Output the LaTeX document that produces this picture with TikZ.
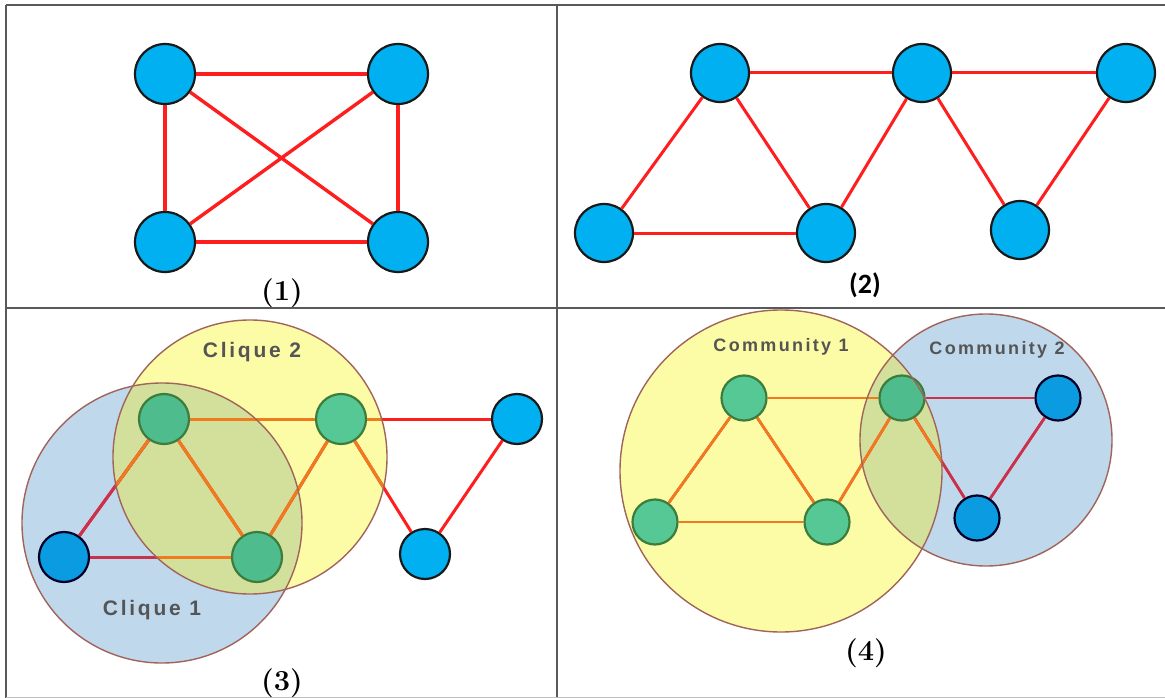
\documentclass[tikz,border=0pt]{standalone}
\usepackage{fontspec}
\newfontfamily\labfont[LetterSpace=13]{Liberation Sans}
\newfontfamily\carfont{Carlito}
\definecolor{nodeblue}{HTML}{00B0F0}
\definecolor{nodedeep}{HTML}{0A9BE0}
\definecolor{nodegreen}{HTML}{55C896}
\definecolor{nodegreenovl}{HTML}{4FBC8E}
\definecolor{greenline}{HTML}{3C7D3C}
\definecolor{edgered}{HTML}{FF1E1E}
\definecolor{edgeorange}{HTML}{F07A1E}
\definecolor{edgecrimson}{HTML}{C8324E}
\definecolor{yellowfill}{HTML}{FCFBA6}
\definecolor{bluefill}{HTML}{BFD8EC}
\definecolor{ovlfill}{HTML}{D3E09C}
\definecolor{ringline}{HTML}{A0645A}
\definecolor{labgray}{HTML}{555555}
\tikzset{
  border/.style={draw=black!65, line width=1.6pt},
  vtx/.style={circle, inner sep=0pt, draw=black!90, fill=nodeblue, line width=2.2pt},
  vtxdeep/.style={vtx, fill=nodedeep, draw=black!85!blue},
  vtxgreen/.style={vtx, fill=nodegreen, draw=greenline},
  vtxgreenovl/.style={vtx, fill=nodegreenovl, draw=greenline},
  redge/.style={draw=edgered, line width=3pt},
  oedge/.style={draw=edgeorange, line width=3pt},
  cedge/.style={draw=edgecrimson, line width=3pt},
  thinedge/.style={line width=2.6pt},
  ring/.style={draw=ringline, line width=1.4pt},
  caplab/.style={font=\fontsize{29}{33}\selectfont\bfseries, inner sep=0pt},
  grplab/.style={text=labgray, inner sep=0pt},
}
\begin{document}
\begin{tikzpicture}[x=1pt,y=-1pt]
\useasboundingbox (0,0) rectangle (1165,698);
\fill[white] (0,0) rectangle (1165,698);

% ---------- Panel 1 ----------
\begin{scope}[every node/.append style={minimum size=60pt}]
\node[vtx] (p1a) at (165,74) {};
\node[vtx] (p1b) at (398,74) {};
\node[vtx] (p1c) at (165,242) {};
\node[vtx] (p1d) at (398,242) {};
\end{scope}
\draw[redge, line width=3.4pt] (p1a) -- (p1b);
\draw[redge, line width=3.4pt] (p1a) -- (p1c);
\draw[redge, line width=3.4pt] (p1a) -- (p1d);
\draw[redge, line width=3.4pt] (p1b) -- (p1c);
\draw[redge, line width=3.4pt] (p1b) -- (p1d);
\draw[redge, line width=3.4pt] (p1c) -- (p1d);
\node[caplab] (lab1) at (282,293) {(1)};

% ---------- Panel 2 ----------
\begin{scope}[every node/.append style={minimum size=58pt}]
\node[vtx] (p2a) at (720,73) {};
\node[vtx] (p2b) at (922,73) {};
\node[vtx] (p2c) at (1126,73) {};
\node[vtx] (p2d) at (604,233) {};
\node[vtx] (p2e) at (826,233) {};
\node[vtx] (p2f) at (1020,230) {};
\end{scope}
\draw[redge] (p2d) -- (p2a);
\draw[redge] (p2d) -- (p2e);
\draw[redge] (p2a) -- (p2e);
\draw[redge] (p2a) -- (p2b);
\draw[redge] (p2e) -- (p2b);
\draw[redge] (p2b) -- (p2c);
\draw[redge] (p2b) -- (p2f);
\draw[redge] (p2f) -- (p2c);
\node[inner sep=0pt, font=\carfont\fontsize{28}{32}\selectfont\bfseries] (lab2) at (865,285) {(2)};

% ---------- Panel 3 ----------
\fill[bluefill] (162,523) circle[radius=140pt];
\fill[yellowfill] (250,457) circle[radius=137pt];
\begin{scope}
  \clip (250,457) circle[radius=137pt];
  \fill[ovlfill] (162,523) circle[radius=140pt];
\end{scope}
\begin{scope}[every node/.append style={minimum size=50pt}]
\node[vtxdeep] (p3a) at (64,557) {};
\node[vtxgreenovl] (p3b) at (164,419) {};
\node[vtxgreen] (p3c) at (341,419) {};
\node[vtxgreenovl] (p3d) at (257,557) {};
\node[vtx] (p3e) at (517,419) {};
\node[vtx] (p3f) at (425,554) {};
\end{scope}
\draw[redge] (p3a) -- (p3b);
\draw[redge] (p3a) -- (p3d);
\draw[redge] (p3b) -- (p3c);
\draw[redge] (p3b) -- (p3d);
\draw[redge] (p3d) -- (p3c);
\draw[redge] (p3c) -- (p3e);
\draw[redge] (p3c) -- (p3f);
\draw[redge] (p3f) -- (p3e);
\begin{scope}
  \clip (162,523) circle[radius=140pt];
  \draw[cedge] (p3a) -- (p3b);
  \draw[cedge] (p3a) -- (p3d);
\end{scope}
\begin{scope}
  \clip (250,457) circle[radius=137pt];
  \draw[oedge] (p3a) -- (p3b);
  \draw[oedge] (p3a) -- (p3d);
  \draw[oedge] (p3b) -- (p3c);
  \draw[oedge] (p3b) -- (p3d);
  \draw[oedge] (p3d) -- (p3c);
  \draw[oedge] (p3c) -- (p3e);
  \draw[oedge] (p3c) -- (p3f);
\end{scope}
\draw[ring] (162,523) circle[radius=140pt];
\draw[ring] (250,457) circle[radius=137pt];
\node[grplab, font=\labfont\fontsize{21}{24}\selectfont\bfseries] (cl2) at (252,352) {Clique 2};
\node[grplab, font=\labfont\fontsize{21}{24}\selectfont\bfseries] (cl1) at (152,610) {Clique 1};
\node[caplab] (lab3) at (282,683) {(3)};

% ---------- Panel 4 ----------
\fill[bluefill] (986,440) circle[radius=126pt];
\fill[yellowfill] (781,471) circle[radius=161pt];
\begin{scope}
  \clip (781,471) circle[radius=161pt];
  \fill[ovlfill] (986,440) circle[radius=126pt];
\end{scope}
\begin{scope}[every node/.append style={minimum size=45pt}]
\node[vtxgreen] (p4a) at (744,398) {};
\node[vtxgreenovl] (p4b) at (902,398) {};
\node[vtxgreen] (p4c) at (655,522) {};
\node[vtxgreen] (p4d) at (827,522) {};
\node[vtxdeep] (p4e) at (1058,398) {};
\node[vtxdeep] (p4f) at (977,518) {};
\end{scope}
\draw[redge, thinedge] (p4c) -- (p4a);
\draw[redge, thinedge] (p4c) -- (p4d);
\draw[redge, thinedge] (p4a) -- (p4b);
\draw[redge, thinedge] (p4a) -- (p4d);
\draw[redge, thinedge] (p4d) -- (p4b);
\draw[redge, thinedge] (p4b) -- (p4e);
\draw[redge, thinedge] (p4b) -- (p4f);
\draw[redge, thinedge] (p4f) -- (p4e);
\begin{scope}
  \clip (986,440) circle[radius=126pt];
  \draw[cedge, thinedge] (p4b) -- (p4e);
  \draw[cedge, thinedge] (p4b) -- (p4f);
  \draw[cedge, thinedge] (p4f) -- (p4e);
\end{scope}
\begin{scope}
  \clip (781,471) circle[radius=161pt];
  \draw[oedge, thinedge] (p4c) -- (p4a);
  \draw[oedge, thinedge] (p4c) -- (p4d);
  \draw[oedge, thinedge] (p4a) -- (p4b);
  \draw[oedge, thinedge] (p4a) -- (p4d);
  \draw[oedge, thinedge] (p4d) -- (p4b);
  \draw[oedge, thinedge] (p4b) -- (p4e);
  \draw[oedge, thinedge] (p4b) -- (p4f);
\end{scope}
\draw[ring] (986,440) circle[radius=126pt];
\draw[ring] (781,471) circle[radius=161pt];
\node[grplab, font=\labfont\fontsize{18}{22}\selectfont\bfseries] (cm1) at (781,347) {Community 1};
\node[grplab, font=\labfont\fontsize{18}{22}\selectfont\bfseries] (cm2) at (997,350) {Community 2};
\node[caplab] (lab4) at (866,653) {(4)};

% ---------- Frame ----------
\draw[border] (6,5) -- (1165,5);
\draw[border] (6,5) -- (6,698);
\draw[border] (557,5) -- (557,698);
\draw[border] (6,308) -- (1165,308);
\draw[draw=black!25, line width=1pt] (6,697) -- (1165,697);
\end{tikzpicture}
\end{document}
